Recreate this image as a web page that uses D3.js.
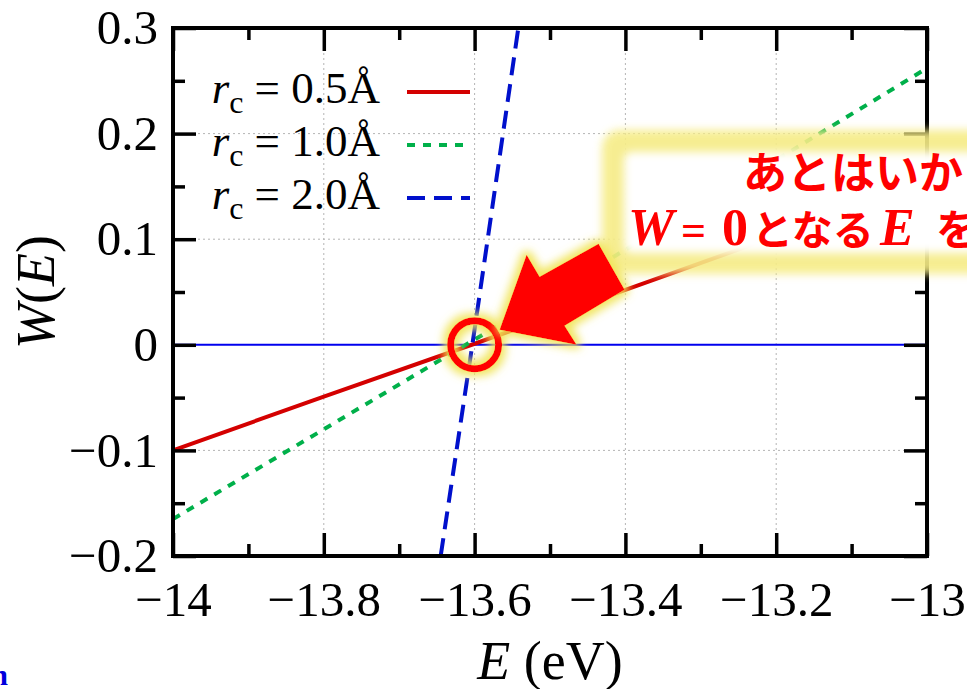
<!DOCTYPE html>
<html>
<head>
<meta charset="utf-8">
<script src="https://cdn.jsdelivr.net/npm/d3@7"></script>
<style>
html, body { margin: 0; padding: 0; background: #fff; overflow: hidden; }
</style>
</head>
<body>
<div id="chart"></div>
<script>
// values
var energy05 = [-14, -13.8, -13.6, -13.4, -13.2, -13.0];
var w05 = [-0.100, -0.049, 0.001, 0.052, 0.103, 0.153];
var energy10 = [-14, -13.8, -13.6, -13.4, -13.2, -13.0];
var w10 = [-0.165, -0.080, 0.005, 0.090, 0.175, 0.262];
var energy20 = [-13.645, -13.603, -13.542];
var w20 = [-0.2, 0.0, 0.3];
var seriesRadii = ['0.5', '1.0', '2.0'];
var xTicks = [-14, -13.8, -13.6, -13.4, -13.2, -13];
var xMinorTicks = [-13.9, -13.7, -13.5, -13.3, -13.1];
var yTicks = [-0.2, -0.1, 0, 0.1, 0.2, 0.3];
var yMinorTicks = [-0.15, -0.05, 0.05, 0.15, 0.25];
var xGrid = [-13.8, -13.6, -13.4, -13.2];
var yGrid = [-0.1, 0.1, 0.2];

function Chart() {
  var attrs = {
    svgWidth: 967,
    svgHeight: 689,
    marginTop: 28,
    marginLeft: 173,
    chartWidth: 754,
    chartHeight: 528,
    container: 'body',
    serif: '"Liberation Serif", "DejaVu Serif", serif',
    cjk: '"Noto Sans CJK JP", "Noto Sans CJK SC", sans-serif',
    data: null
  };

  var main = function () {
    var container = d3.select(attrs.container);

    var svg = container.patternify({ tag: 'svg', selector: 'svg-chart-container' })
      .attr('width', attrs.svgWidth)
      .attr('height', attrs.svgHeight)
      .attr('font-family', attrs.serif);

    var defs = svg.patternify({ tag: 'defs', selector: 'defs' });

    defs.patternify({ tag: 'clipPath', selector: 'plot-clip' })
      .attr('id', 'plot-clip')
      .patternify({ tag: 'rect', selector: 'clip-rect' })
      .attr('width', attrs.chartWidth)
      .attr('height', attrs.chartHeight);

    // yellow halo like the slide's glow effect
    var glow = defs.patternify({ tag: 'filter', selector: 'glow' })
      .attr('id', 'glow').attr('x', '-50%').attr('y', '-50%')
      .attr('width', '200%').attr('height', '200%');
    glow.patternify({ tag: 'feMorphology', selector: 'g-dil' })
      .attr('in', 'SourceAlpha').attr('operator', 'dilate').attr('radius', 4).attr('result', 'd');
    glow.patternify({ tag: 'feGaussianBlur', selector: 'g-blur' })
      .attr('in', 'd').attr('stdDeviation', 4).attr('result', 'b');
    glow.patternify({ tag: 'feFlood', selector: 'g-flood' })
      .attr('flood-color', '#f0e454').attr('flood-opacity', 0.9);
    glow.patternify({ tag: 'feComposite', selector: 'g-comp' })
      .attr('in2', 'b').attr('operator', 'in').attr('result', 'g');
    var merge = glow.patternify({ tag: 'feMerge', selector: 'g-merge' });
    merge.patternify({ tag: 'feMergeNode', selector: 'mn', data: ['g', 'SourceGraphic'] })
      .attr('in', d => d);

    var soft = defs.patternify({ tag: 'filter', selector: 'soft' })
      .attr('id', 'soft').attr('x', '-20%').attr('y', '-20%')
      .attr('width', '140%').attr('height', '140%');
    soft.patternify({ tag: 'feGaussianBlur', selector: 's-blur' })
      .attr('stdDeviation', 4);

    var x = d3.scaleLinear().domain([-14, -13]).range([0, attrs.chartWidth]);
    var y = d3.scaleLinear().domain([-0.2, 0.3]).range([attrs.chartHeight, 0]);
    var fmt = d3.format('');

    var chart = svg.patternify({ tag: 'g', selector: 'chart' })
      .attr('transform', 'translate(' + attrs.marginLeft + ',' + attrs.marginTop + ')');

    // dotted grid
    chart.patternify({ tag: 'line', selector: 'grid-x', data: xGrid })
      .attr('x1', d => x(d)).attr('x2', d => x(d))
      .attr('y1', 0).attr('y2', attrs.chartHeight)
      .attr('stroke', '#b4b4b4').attr('stroke-width', 1).attr('stroke-dasharray', '2,3');
    chart.patternify({ tag: 'line', selector: 'grid-y', data: yGrid })
      .attr('y1', d => y(d)).attr('y2', d => y(d))
      .attr('x1', 0).attr('x2', attrs.chartWidth)
      .attr('stroke', '#b4b4b4').attr('stroke-width', 1).attr('stroke-dasharray', '2,3');

    var plot = chart.patternify({ tag: 'g', selector: 'plot' })
      .attr('clip-path', 'url(#plot-clip)');

    plot.patternify({ tag: 'line', selector: 'zero-line' })
      .attr('x1', 0).attr('x2', attrs.chartWidth)
      .attr('y1', y(0)).attr('y2', y(0))
      .attr('stroke', '#0000ee').attr('stroke-width', 2);

    var series = [
      { id: 's05', e: energy05, w: w05, color: '#d40000', dash: null },
      { id: 's10', e: energy10, w: w10, color: '#00b04a', dash: '8,8' },
      { id: 's20', e: energy20, w: w20, color: '#0010cc', dash: '18,9' }
    ];
    var line = d3.line().x(d => x(d[0])).y(d => y(d[1]));

    plot.patternify({ tag: 'path', selector: 'series', data: series })
      .attr('d', d => line(d.e.map((v, i) => [v, d.w[i]])))
      .attr('fill', 'none')
      .attr('stroke', d => d.color)
      .attr('stroke-width', 4)
      .attr('stroke-dasharray', d => d.dash);

    // axes with inward ticks on all four sides
    var axisStyle = function (g) {
      g.select('.domain').remove();
      g.selectAll('.tick line').attr('stroke', '#000').attr('stroke-width', 3.5);
      g.selectAll('text').attr('font-family', attrs.serif).attr('fill', '#000');
    };

    chart.patternify({ tag: 'g', selector: 'x-axis' })
      .attr('transform', 'translate(0,' + attrs.chartHeight + ')')
      .call(d3.axisBottom(x).tickValues(xTicks).tickSizeInner(-23).tickSizeOuter(0)
        .tickPadding(25).tickFormat(fmt))
      .call(axisStyle)
      .selectAll('text').attr('font-size', 49);
    chart.patternify({ tag: 'g', selector: 'x-axis-minor' })
      .attr('transform', 'translate(0,' + attrs.chartHeight + ')')
      .call(d3.axisBottom(x).tickValues(xMinorTicks).tickSizeInner(-12).tickSizeOuter(0).tickFormat(''))
      .call(axisStyle);
    chart.patternify({ tag: 'g', selector: 'x-axis-top' })
      .call(d3.axisTop(x).tickValues(xTicks).tickSizeInner(-23).tickSizeOuter(0).tickFormat(''))
      .call(axisStyle);
    chart.patternify({ tag: 'g', selector: 'x-axis-top-minor' })
      .call(d3.axisTop(x).tickValues(xMinorTicks).tickSizeInner(-12).tickSizeOuter(0).tickFormat(''))
      .call(axisStyle);

    chart.patternify({ tag: 'g', selector: 'y-axis' })
      .call(d3.axisLeft(y).tickValues(yTicks).tickSizeInner(-23).tickSizeOuter(0)
        .tickPadding(15).tickFormat(fmt))
      .call(axisStyle)
      .selectAll('text').attr('font-size', 49);
    chart.patternify({ tag: 'g', selector: 'y-axis-minor' })
      .call(d3.axisLeft(y).tickValues(yMinorTicks).tickSizeInner(-12).tickSizeOuter(0).tickFormat(''))
      .call(axisStyle);
    chart.patternify({ tag: 'g', selector: 'y-axis-right' })
      .attr('transform', 'translate(' + attrs.chartWidth + ',0)')
      .call(d3.axisRight(y).tickValues(yTicks).tickSizeInner(-23).tickSizeOuter(0).tickFormat(''))
      .call(axisStyle);
    chart.patternify({ tag: 'g', selector: 'y-axis-right-minor' })
      .attr('transform', 'translate(' + attrs.chartWidth + ',0)')
      .call(d3.axisRight(y).tickValues(yMinorTicks).tickSizeInner(-12).tickSizeOuter(0).tickFormat(''))
      .call(axisStyle);

    chart.patternify({ tag: 'rect', selector: 'frame' })
      .attr('width', attrs.chartWidth).attr('height', attrs.chartHeight)
      .attr('fill', 'none').attr('stroke', '#000').attr('stroke-width', 4);

    // axis titles
    var yTitle = svg.patternify({ tag: 'text', selector: 'y-title' })
      .attr('transform', 'translate(54,' + (attrs.marginTop + y(0.05)) + ') rotate(-90)')
      .attr('text-anchor', 'middle').attr('font-size', 54);
    yTitle.patternify({ tag: 'tspan', selector: 'yt', data: ['W', '(', 'E', ')'] })
      .attr('font-style', (d, i) => (i % 2 === 0 ? 'italic' : 'normal'))
      .text(d => d);

    var xTitle = svg.patternify({ tag: 'text', selector: 'x-title' })
      .attr('x', attrs.marginLeft + x(-13.5)).attr('y', 679)
      .attr('text-anchor', 'middle').attr('font-size', 54);
    xTitle.patternify({ tag: 'tspan', selector: 'xt', data: ['E', ' (eV)'] })
      .attr('font-style', (d, i) => (i === 0 ? 'italic' : 'normal'))
      .text(d => d);

    // legend
    var legend = chart.patternify({ tag: 'g', selector: 'legend-row', data: series })
      .attr('transform', (d, i) => 'translate(0,' + (75 + i * 53) + ')');
    var lt = legend.patternify({ tag: 'text', selector: 'legend-text', data: (d, i) => [seriesRadii[i]] })
      .attr('x', 207).attr('text-anchor', 'end').attr('font-size', 45);
    lt.patternify({ tag: 'tspan', selector: 'lt-r', data: ['r'] })
      .attr('font-style', 'italic').text(d => d);
    lt.patternify({ tag: 'tspan', selector: 'lt-c', data: ['c'] })
      .attr('font-size', 32).attr('dy', 10).text(d => d);
    lt.patternify({ tag: 'tspan', selector: 'lt-v', data: d => [d] })
      .attr('dy', -10).text(d => ' = ' + d + 'Å');
    legend.patternify({ tag: 'line', selector: 'legend-line', data: d => [d] })
      .attr('x1', 234).attr('x2', 297).attr('y1', -11).attr('y2', -11)
      .attr('stroke', d => d.color).attr('stroke-width', 4)
      .attr('stroke-dasharray', d => d.dash);

    // callout box
    var note = svg.patternify({ tag: 'g', selector: 'note' });
    note.patternify({ tag: 'rect', selector: 'note-halo' })
      .attr('x', 602).attr('y', 130).attr('width', 420).attr('height', 144).attr('rx', 18)
      .attr('fill', '#f6ec86').attr('opacity', 0.9).attr('filter', 'url(#soft)');
    note.patternify({ tag: 'rect', selector: 'note-body' })
      .attr('x', 624).attr('y', 152).attr('width', 400).attr('height', 101).attr('rx', 8)
      .attr('fill', '#fff').attr('filter', 'url(#soft)');

    note.patternify({ tag: 'text', selector: 'note-l1' })
      .attr('x', 743).attr('y', 189)
      .attr('font-family', attrs.cjk).attr('font-weight', 700).attr('font-size', 44)
      .attr('fill', '#ff0000').text('あとはいか');

    var l2 = [
      { t: 'W', x: 628, f: attrs.serif, s: 'italic', z: 52 },
      { t: '=', x: 681, f: attrs.serif, s: 'normal', z: 44 },
      { t: '0', x: 722, f: attrs.serif, s: 'normal', z: 52 },
      { t: 'となる', x: 752, f: attrs.cjk, s: 'normal', z: 41 },
      { t: 'E', x: 880, f: attrs.serif, s: 'italic', z: 52 },
      { t: 'を', x: 936, f: attrs.cjk, s: 'normal', z: 42 }
    ];
    note.patternify({ tag: 'text', selector: 'note-l2', data: l2 })
      .attr('x', d => d.x).attr('y', 245)
      .attr('font-family', d => d.f).attr('font-style', d => d.s)
      .attr('font-size', d => d.z).attr('font-weight', 700)
      .attr('fill', '#ff0000').text(d => d.t);

    // circle + arrow marking the root
    var cx = attrs.marginLeft + x(-13.6), cy = attrs.marginTop + y(0);
    var mark = svg.patternify({ tag: 'g', selector: 'mark' })
      .attr('transform', 'translate(' + cx + ',' + cy + ')');
    mark.patternify({ tag: 'circle', selector: 'ring' })
      .attr('r', 24).attr('fill', 'none').attr('stroke', '#ff0000').attr('stroke-width', 7)
      .attr('filter', 'url(#glow)');
    var arrow = [[25, -15], [52, -90], [65, -68], [124, -101], [150, -55], [90, -19], [102, 0]];
    mark.patternify({ tag: 'path', selector: 'arrow' })
      .attr('d', 'M' + arrow.join('L') + 'Z')
      .attr('fill', '#ff0000').attr('filter', 'url(#glow)');

    // clipped footer fragment in the corner
    svg.patternify({ tag: 'text', selector: 'footer' })
      .attr('x', 8).attr('y', 685).attr('text-anchor', 'end')
      .attr('font-size', 30).attr('font-weight', 700).attr('fill', '#0000dd')
      .text('n');
  };

  d3.selection.prototype.patternify = function (params) {
    var container = this;
    var selector = params.selector;
    var elementTag = params.tag;
    var data = params.data || [selector];

    var selection = container.selectAll('.' + selector).data(data, (d, i) => {
      if (typeof d === 'object' && d && d.id) return d.id;
      return i;
    });
    selection.exit().remove();
    selection = selection.enter().append(elementTag).merge(selection);
    selection.attr('class', selector);
    return selection;
  };

  Object.keys(attrs).forEach((key) => {
    main[key] = function (_) {
      if (!arguments.length) return attrs[key];
      attrs[key] = _;
      return main;
    };
  });

  main.render = function () {
    main();
    return main;
  };

  return main;
}

Chart().container('#chart').render();
</script>
</body>
</html>
